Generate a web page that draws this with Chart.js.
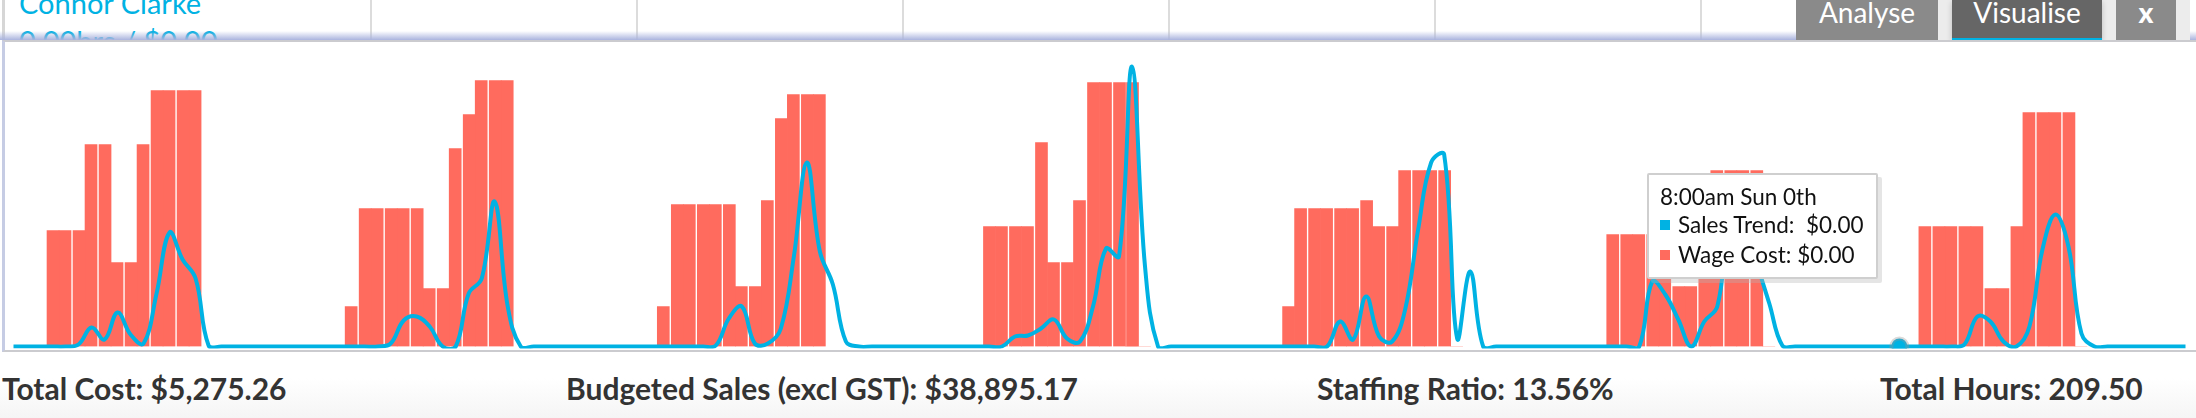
<!DOCTYPE html>
<html>
<head>
<meta charset="utf-8">
<title>Visualise</title>
<script src="https://cdn.jsdelivr.net/npm/chart.js@4/dist/chart.umd.min.js"></script>
<style>
  html, body { margin: 0; padding: 0; background: #fff; }
  #page { position: relative; width: 2196px; height: 418px; overflow: hidden; font-family: Lato, sans-serif; background: #fff; }
  #page div { position: absolute; white-space: pre; }
  .sep { top: 0; width: 2px; height: 40px; background: #dcdcdc; }
  .staff { left: 19px; color: #00b2e3; font-size: 29px; line-height: 36px; }
  #fade { left: 0; top: 31px; width: 2196px; height: 9px; background: linear-gradient(rgba(170,180,222,0), rgba(170,180,222,1)); }
  #panel { left: 2px; top: 40px; width: 2194px; height: 312px; box-sizing: border-box; background: #fff; border-top: 2px solid #cbcbcf; border-bottom: 2px solid #cbcbcf; border-left: 3px solid #c6cce4; }
  #leftEdge { left: 2px; top: 0; width: 3px; height: 40px; background: #d6d6d6; }
  #foot { left: 0; top: 352px; width: 2196px; height: 66px; background: linear-gradient(#fff 40%, #f5f5f5); }
  .btnGap { top: 0; height: 40px; background: #ececec; }
  .btn { top: 0; height: 40px; color: #fff; font-size: 28px; line-height: 24px; text-align: center; background: #8a8a8a; }
  .stat { top: 372px; font-size: 30px; line-height: 32px; font-weight: 700; color: #333; }
  canvas { position: absolute; left: 0; top: 0; }
  #tip { left: 1647px; top: 173px; width: 231px; height: 106px; box-sizing: border-box; background: #fff; border: 2px solid #cfcfcf; border-radius: 2px; box-shadow: 4px 4px 0 rgba(180,180,180,.35); color: #111; font-size: 22.5px; z-index: 5; }
  #tip div { line-height: 24px; }
  #tip .swatch { width: 10px; height: 10px; left: 11px; }
</style>
</head>
<body>
<div id="page">
  <div class="sep" style="left:370px"></div>
  <div class="sep" style="left:636px"></div>
  <div class="sep" style="left:902px"></div>
  <div class="sep" style="left:1168px"></div>
  <div class="sep" style="left:1434px"></div>
  <div class="sep" style="left:1700px"></div>
  <div id="leftEdge"></div>
  <div class="staff" style="top:-15px">Connor Clarke</div>
  <div class="staff" style="top:23px">0.00hrs / $0.00</div>
  <div id="fade"></div>
  <div class="btnGap" style="left:1938px;width:252px"></div>
  <div class="btn" style="left:1796px;width:142px">Analyse</div>
  <div class="btn" style="left:1952px;width:150px;height:38px;background:#666;border-bottom:2px solid #00b2e3;box-shadow:0 2px 6px rgba(0,0,0,.2)">Visualise</div>
  <div class="btn" style="left:2116px;width:60px;font-weight:900">x</div>
  <div id="panel"></div>
  <div id="foot"></div>
  <div class="stat" style="left:2px">Total Cost: $5,275.26</div>
  <div class="stat" style="left:566px">Budgeted Sales (excl GST): $38,895.17</div>
  <div class="stat" style="left:1317px">Staffing Ratio: 13.56%</div>
  <div class="stat" style="left:1880px">Total Hours: 209.50</div>
  <canvas id="chart" width="2196" height="418"></canvas>
  <div id="tip">
    <div style="left:11px;top:10px">8:00am Sun 0th</div>
    <div class="swatch" style="top:45px;background:#00b2e3"></div>
    <div style="left:29px;top:38px">Sales Trend:  $0.00</div>
    <div class="swatch" style="top:75px;background:#ff6b5e"></div>
    <div style="left:29px;top:68px">Wage Cost: $0.00</div>
  </div>
</div>
<script>
const barHours = [
  1.75, 2.75, 3.75, 4.75, 5.75, 6.75,
  12.75, 13.75, 14.75, 15.75, 16.75, 17.75, 18.75,
  24.75, 25.75, 26.75, 27.75, 28.75, 29.75, 30.75,
  37.75, 38.75, 39.75, 40.75, 41.75, 42.75, 43.25,
  49.25, 50.25, 51.25, 52.25, 53.25, 54.25, 55.25,
  61.25, 62.25, 63.25, 64.25, 65.25, 66.25, 67.25,
  73.25, 74.25, 75.25, 76.25, 77.25, 78.25, 79.25
];
const wageFirstHalf = [
  116, 116, 202, 84, 256, 256,
  0, 138, 138, 138, 58, 232, 266,
  0, 142, 142, 142, 60, 228, 252,
  120, 120, 204, 84, 264, 264, 264,
  40, 138, 138, 146, 120, 176, 176,
  0, 112, 112, 60, 120, 176, 176,
  0, 120, 120, 58, 120, 234, 234
];
const wageSecondHalf = [
  116, 202, 84, 202, 256, 256,
  40, 138, 138, 58, 198, 266, 266,
  40, 142, 142, 60, 146, 252, 252,
  120, 120, 84, 146, 264, 0, 0,
  138, 138, 138, 120, 176, 176, 0,
  112, 112, 112, 60, 176, 176, 0,
  120, 120, 120, 58, 234, 234, 0
];
const salesTrend = [
  0, 0, 0, 0, 0, 2, 19, 7, 34, 12, 3, 53, 114, 87, 68, 1, 0,
  0, 0, 0, 0, 0, 0, 0, 0, 0, 0, 0, 0,
  3, 26, 30, 20, 0, 0, 53, 68, 145, 40, 0, 0,
  0, 0, 0, 0, 0, 0, 0, 0, 0, 0, 0, 0, 0,
  1, 28, 40, 3, 3, 18, 90, 184, 95, 62, 5, 0, 0,
  0, 0, 0, 0, 0, 0, 0, 0, 0, 0,
  10, 11, 18, 27, 8, 5, 40, 98, 90, 280, 80, 0, 0,
  0, 0, 0, 0, 0, 0, 0, 0, 0, 0, 0, 0,
  25, 7, 50, 10, 5, 37, 117, 184, 192, 8, 75, 0, 0,
  0, 0, 0, 0, 0, 0, 0, 0, 0, 0, 0,
  65, 52, 27, 0, 25, 40, 125, 130, 85, 43, 1, 0,
  0, 0, 0, 0, 0, 0, 0, 0, 0, 0, 0, 0,
  2, 30, 25, 5, 0, 20, 97, 132, 100, 13, 0,
  0, 0, 0, 0, 0, 0, 0
];
const hoverIndex = 145;

const barColor = '#ff6b5e';
const lineColor = '#00b2e3';

new Chart(document.getElementById('chart'), {
  type: 'bar',
  data: {
    datasets: [
      {
        type: 'line',
        label: 'Sales Trend',
        data: salesTrend.map((v, i) => ({ x: i / 2, y: v })),
        borderColor: lineColor,
        backgroundColor: lineColor,
        borderWidth: 4,
        tension: 0.4,
        capBezierPoints: false,
        fill: false,
        clip: { left: 2, top: 5, right: 2, bottom: 2 },
        pointRadius: c => c.dataIndex === hoverIndex ? 8 : 0,
        pointBackgroundColor: lineColor,
        pointBorderColor: 'rgba(150,150,150,0.35)',
        pointBorderWidth: 4,
        order: 1
      },
      {
        label: 'Wage Cost',
        data: barHours.map((h, i) => ({ x: h, y: wageFirstHalf[i] })),
        backgroundColor: barColor,
        barThickness: 12,
        order: 2
      },
      {
        label: 'Wage Cost',
        data: barHours.map((h, i) => ({ x: h, y: wageSecondHalf[i] })),
        backgroundColor: barColor,
        barThickness: 12,
        order: 2
      }
    ]
  },
  options: {
    responsive: false,
    animation: false,
    layout: { padding: { left: 13.5, right: 10.5, top: 42, bottom: 71.5 } },
    plugins: { legend: { display: false }, tooltip: { enabled: false } },
    scales: {
      x: { type: 'linear', min: 0, max: 83.5, offset: false, display: false },
      y: { min: 0, max: 304.5, display: false }
    }
  }
});
</script>
</body>
</html>
